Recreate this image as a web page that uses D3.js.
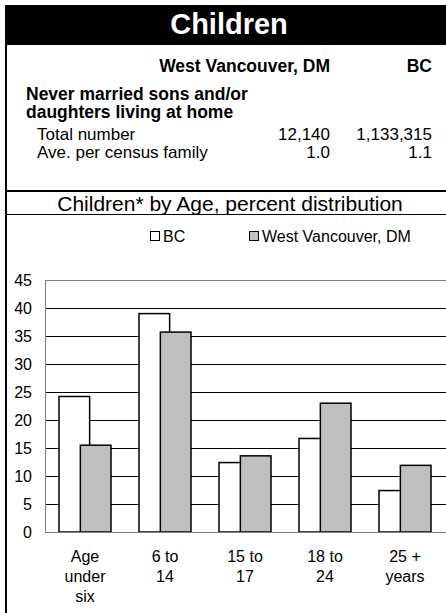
<!DOCTYPE html>
<html><head><meta charset="utf-8">
<script src="https://cdn.jsdelivr.net/npm/d3@7"></script>
<style>
html,body{margin:0;padding:0;background:#fff;}
svg{display:block;font-family:"Liberation Sans",Arial,sans-serif;}
</style></head>
<body>
<script>
const categories = [["Age","under","six"],["6 to","14"],["15 to","17"],["18 to","24"],["25 +","years"]];
const seriesNames = ["BC","West Vancouver, DM"];
const bcValues = [24.2, 39.0, 12.4, 16.7, 7.4];
const wvValues = [15.5, 35.7, 13.6, 23.0, 11.9];
const yTicks = [0,5,10,15,20,25,30,35,40,45];
const tableHeader = ["West Vancouver, DM","BC"];
const tableRows = [
  {label:"Total number", wv:"12,140", bc:"1,133,315"},
  {label:"Ave. per census family", wv:"1.0", bc:"1.1"}
];

(function(){
const W = 446, H = 613;
const svg = d3.select("body").append("svg").attr("width",W).attr("height",H);

// frame
svg.append("rect").attr("x",5).attr("y",5).attr("width",W-5).attr("height",40).attr("fill","#000");
svg.append("line").attr("x1",6).attr("x2",6).attr("y1",5).attr("y2",H).attr("stroke","#000").attr("stroke-width",2);
svg.append("text").attr("x",229).attr("y",34).attr("text-anchor","middle").attr("fill","#fff")
  .attr("font-weight","bold").attr("font-size",29).text("Children");

// table
svg.append("text").attr("x",330).attr("y",72).attr("text-anchor","end").attr("font-weight","bold").attr("font-size",17.5).text(tableHeader[0]);
svg.append("text").attr("x",432).attr("y",72).attr("text-anchor","end").attr("font-weight","bold").attr("font-size",17.5).text(tableHeader[1]);
svg.append("text").attr("x",26).attr("y",100).attr("font-weight","bold").attr("font-size",17.5).text("Never married sons and/or");
svg.append("text").attr("x",26).attr("y",118).attr("font-weight","bold").attr("font-size",17.5).text("daughters living at home");
tableRows.forEach((r,i)=>{
  const yy = 139.5 + i*18;
  svg.append("text").attr("x",37).attr("y",yy).attr("font-size",17).text(r.label);
  svg.append("text").attr("x",330).attr("y",yy).attr("text-anchor","end").attr("font-size",17).text(r.wv);
  svg.append("text").attr("x",432).attr("y",yy).attr("text-anchor","end").attr("font-size",17).text(r.bc);
});

svg.append("line").attr("x1",5).attr("x2",W).attr("y1",191).attr("y2",191).attr("stroke","#000").attr("stroke-width",2);
svg.append("text").attr("x",230).attr("y",211).attr("text-anchor","middle").attr("font-size",21).text("Children* by Age, percent distribution");
svg.append("line").attr("x1",5).attr("x2",W).attr("y1",214.5).attr("y2",214.5).attr("stroke","#000").attr("stroke-width",1);

// legend
const legend = [{name:seriesNames[0], fill:"#fff", x:150},{name:seriesNames[1], fill:"#c0c0c0", x:249}];
legend.forEach(l=>{
  svg.append("rect").attr("x",l.x+0.5).attr("y",231.5).attr("width",9).attr("height",9).attr("fill",l.fill).attr("stroke","#000").attr("stroke-width",1);
  svg.append("text").attr("x",l.x+13).attr("y",241.5).attr("font-size",16).text(l.name);
});

// chart
const pl = 45, pr = 445, pt = 280, pb = 532;
const x = d3.scaleBand().domain(d3.range(categories.length)).range([pl,pr]).padding(0);
const y = d3.scaleLinear().domain([0,45]).range([pb,pt]);
const g = svg.append("g");

g.selectAll("line.grid").data(yTicks.filter(t=>t>0)).enter().append("line")
  .attr("x1",pl).attr("x2",W).attr("y1",d=>Math.round(y(d))+0.5).attr("y2",d=>Math.round(y(d))+0.5)
  .attr("stroke",d=>d===45?"#808080":"#000").attr("stroke-width",1);

const yAxis = d3.axisLeft(y).tickValues(yTicks).tickSize(0).tickPadding(13);
const ya = g.append("g").attr("transform",`translate(${pl},0)`).call(yAxis);
ya.select(".domain").remove();
ya.selectAll("text").attr("font-size",16).attr("fill","#000").attr("font-family",'"Liberation Sans",Arial,sans-serif');

const bw = x.bandwidth();
g.selectAll("rect.bc").data(bcValues).enter().append("rect")
  .attr("x",(d,i)=>x(i)+bw*0.175).attr("width",bw*0.383)
  .attr("y",d=>y(d)).attr("height",d=>y(0)-y(d))
  .attr("fill","#fff").attr("stroke","#000").attr("stroke-width",1.5);
g.selectAll("rect.wv").data(wvValues).enter().append("rect")
  .attr("x",(d,i)=>x(i)+bw*0.442).attr("width",bw*0.383)
  .attr("y",d=>y(d)).attr("height",d=>y(0)-y(d))
  .attr("fill","#c0c0c0").attr("stroke","#000").attr("stroke-width",1.5);

// axes lines
g.append("line").attr("x1",pl+0.5).attr("x2",pl+0.5).attr("y1",pt).attr("y2",pb).attr("stroke","#808080");
g.append("line").attr("x1",pl).attr("x2",W).attr("y1",pb+0.5).attr("y2",pb+0.5).attr("stroke","#808080");

// category labels
categories.forEach((lines,i)=>{
  const t = svg.append("text").attr("text-anchor","middle").attr("font-size",16);
  lines.forEach((ln,j)=>{
    t.append("tspan").attr("x",x(i)+bw/2).attr("y",562+j*20).text(ln);
  });
});
})();
</script>
</body></html>
